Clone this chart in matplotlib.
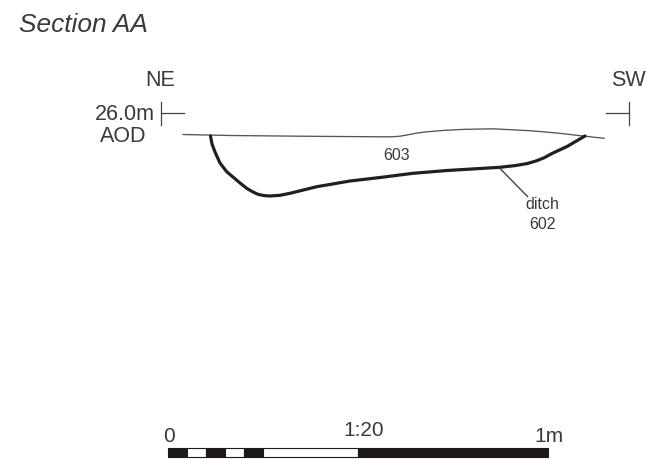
import matplotlib
matplotlib.use("Agg")
import matplotlib.pyplot as plt

plt.rcParams['font.family'] = ['Liberation Sans', 'DejaVu Sans']

# profile lines in image pixels (x right, y down)
ground_x = [183, 230, 300, 380, 392, 400, 408, 416, 425, 445, 463, 493, 530, 557, 583, 604]
ground_y = [134.5, 135.5, 136.2, 136.8, 136.8, 136.2, 134.8, 133.2, 132, 130.3, 129.4, 128.8, 130.7, 133, 136, 138.3]

ditch_x = [210.5, 212, 215, 220, 226.7, 240, 247, 253, 258, 264, 270, 280, 290, 316.7, 350, 380, 413, 447, 500,
           515, 527, 536, 544, 552, 567, 585]
ditch_y = [136, 144, 152, 163, 171.7, 183, 188.5, 192, 194.3, 195.6, 196, 195.3, 193.3, 186.7, 181, 177.5, 173.3, 170.5, 167.3,
           165.6, 163.6, 161, 157.8, 153.5, 146.5, 136]

leader_x = [500, 527.5]
leader_y = [168.5, 196.5]

# section end markers
ne_stem_x = [161, 161]
ne_stem_y = [102, 125]
ne_arm_x = [161, 184]
ne_arm_y = [113, 113]
sw_stem_x = [629, 629]
sw_stem_y = [102, 125]
sw_arm_x = [606, 629]
sw_arm_y = [113, 113]

# scale bar divisions in metres
scale_edges = [0, 0.05, 0.1, 0.15, 0.2, 0.25, 0.5, 1.0]
scale_cols = ['#1e1a1b', 'white', '#1e1a1b', 'white', '#1e1a1b', 'white', '#1e1a1b']

TEXT = '#3a3a3a'

fig = plt.figure(figsize=(6.47, 4.59), dpi=100)
ax = fig.add_axes([0, 0, 1, 1])
ax.set_xlim(0, 647)
ax.set_ylim(459, 0)
ax.axis('off')

ax.plot(ground_x, ground_y, color='#555555', lw=0.95, solid_joinstyle='round')
ax.plot(ditch_x, ditch_y, color='#231f20', lw=2.3, solid_joinstyle='round', solid_capstyle='round')
ax.plot(leader_x, leader_y, color='#444444', lw=1.0)

for xs, ys in [(ne_stem_x, ne_stem_y), (ne_arm_x, ne_arm_y), (sw_stem_x, sw_stem_y), (sw_arm_x, sw_arm_y)]:
    ax.plot(xs, ys, color='#444444', lw=0.9)

ax.text(19, 25.5, 'Section AA', fontsize=18.9, style='italic', color=TEXT, ha='left', va='center')
ax.text(160, 80.5, 'NE', fontsize=15.5, color=TEXT, ha='center', va='center')
ax.text(628, 80.5, 'SW', fontsize=15.5, color=TEXT, ha='center', va='center')
ax.text(155, 115, '26.0m', fontsize=15.5, color=TEXT, ha='right', va='center')
ax.text(146, 136, 'AOD', fontsize=15.5, color=TEXT, ha='right', va='center')
ax.text(397, 155.5, '603', fontsize=11.5, color=TEXT, ha='center', va='center')
ax.text(542, 204.5, 'ditch', fontsize=11.5, color=TEXT, ha='center', va='center')
ax.text(542, 224.5, '602', fontsize=11.5, color=TEXT, ha='center', va='center')
ax.text(169, 437, '0', fontsize=15, color=TEXT, ha='center', va='center')
ax.text(364, 430.5, '1:20', fontsize=15, color=TEXT, ha='center', va='center')
ax.text(549, 437, '1m', fontsize=15, color=TEXT, ha='center', va='center')

# scale bar on its own axes so it runs in metres
sax = fig.add_axes([168 / 647, 1 - 456.5 / 459, 380 / 647, 8.5 / 459])
sax.set_xlim(0, 1)
sax.set_ylim(0, 1)
sax.axis('off')
for i in range(len(scale_cols)):
    sax.barh(0.5, scale_edges[i + 1] - scale_edges[i], left=scale_edges[i], height=1,
             color=scale_cols[i], edgecolor='#1e1a1b', linewidth=0.8, clip_on=False)

fig.savefig('out.png', dpi=100)
